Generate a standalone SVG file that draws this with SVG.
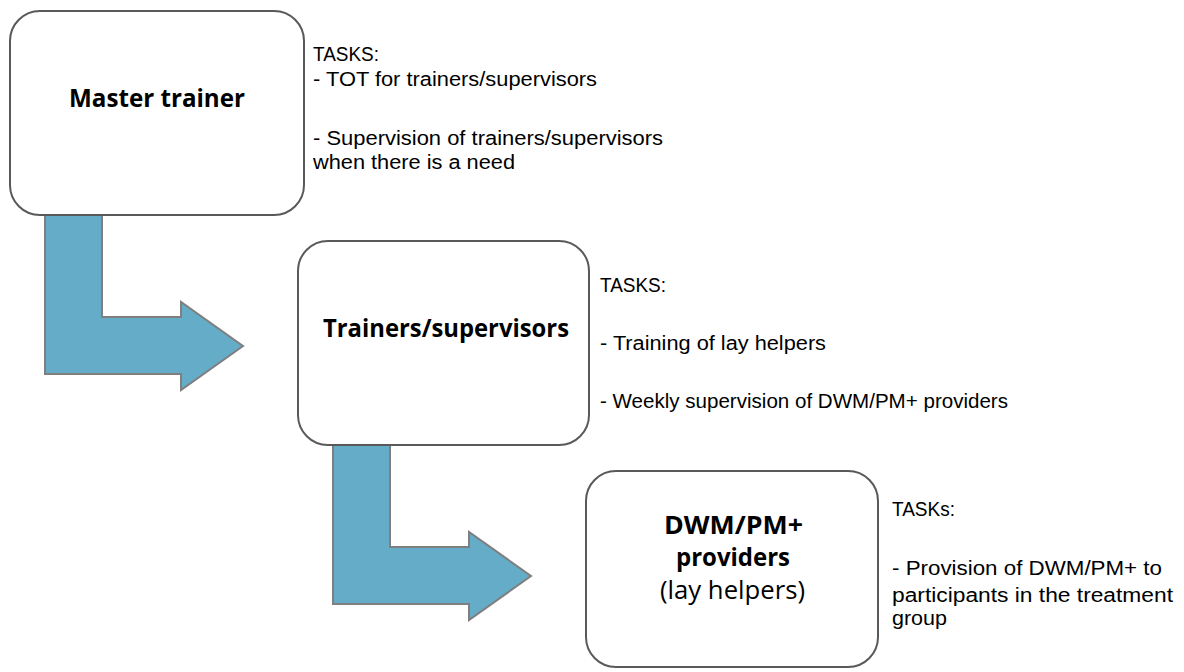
<svg xmlns="http://www.w3.org/2000/svg" width="1184" height="672" viewBox="0 0 1184 672">
<style>
.box{fill:#ffffff;stroke:#595959;stroke-width:2}
.arr{fill:#65acc8;stroke:#7f7f7f;stroke-width:2;stroke-linejoin:miter}
.t{font-family:"Liberation Sans",Arial,sans-serif;font-size:19.5px;fill:#000000}
.b{font-family:"Open Sans","Liberation Sans",sans-serif;font-size:25px;font-weight:bold;fill:#000000}
.r{font-family:"Open Sans","Liberation Sans",sans-serif;font-size:25px;font-weight:normal;fill:#000000}
</style>
<defs>
<path id="bend" d="M0,0 H57 V102 H136 V87 L198,131 L136,175 V159 H0 Z"/>
</defs>
<g id="connectors">
<use href="#bend" class="arr" transform="translate(45,215)"/>
<use href="#bend" class="arr" transform="translate(333,445)"/>
</g>
<g id="master-trainer">
<rect class="box" x="10" y="11" width="294" height="204" rx="30" ry="30"/>
<text class="b" x="69" y="107" textLength="176" lengthAdjust="spacingAndGlyphs">Master trainer</text>
</g>
<g id="master-trainer-tasks">
<text class="t"><tspan x="313" y="61" textLength="66" lengthAdjust="spacingAndGlyphs">TASKS:</tspan><tspan x="313" y="86" textLength="284" lengthAdjust="spacingAndGlyphs">- TOT for trainers/supervisors</tspan></text>
<text class="t"><tspan x="313" y="145" textLength="350" lengthAdjust="spacingAndGlyphs">- Supervision of trainers/supervisors</tspan><tspan x="313" y="169" textLength="202" lengthAdjust="spacingAndGlyphs">when there is a need</tspan></text>
</g>
<g id="trainers-supervisors">
<rect class="box" x="298" y="241" width="291" height="204" rx="30" ry="30"/>
<text class="b" x="323" y="337" textLength="246" lengthAdjust="spacingAndGlyphs">Trainers/supervisors</text>
</g>
<g id="trainers-supervisors-tasks">
<text class="t" x="600" y="292" textLength="66" lengthAdjust="spacingAndGlyphs">TASKS:</text>
<text class="t" x="600" y="350" textLength="226" lengthAdjust="spacingAndGlyphs">- Training of lay helpers</text>
<text class="t" x="600" y="408" textLength="408" lengthAdjust="spacingAndGlyphs">- Weekly supervision of DWM/PM+ providers</text>
</g>
<g id="providers">
<rect class="box" x="586" y="471" width="292" height="196" rx="30" ry="30"/>
<text class="b"><tspan x="664" y="534" textLength="139" lengthAdjust="spacingAndGlyphs">DWM/PM+</tspan><tspan x="676" y="566" textLength="114" lengthAdjust="spacingAndGlyphs">providers</tspan><tspan class="r" x="660" y="599" textLength="145" lengthAdjust="spacingAndGlyphs">(lay helpers)</tspan></text>
</g>
<g id="providers-tasks">
<text class="t" x="892" y="516" textLength="63" lengthAdjust="spacingAndGlyphs">TASKs:</text>
<text class="t"><tspan x="892" y="575" textLength="270" lengthAdjust="spacingAndGlyphs">- Provision of DWM/PM+ to</tspan><tspan x="892" y="602" textLength="281" lengthAdjust="spacingAndGlyphs">participants in the treatment</tspan><tspan x="892" y="625" textLength="55" lengthAdjust="spacingAndGlyphs">group</tspan></text>
</g>
</svg>
